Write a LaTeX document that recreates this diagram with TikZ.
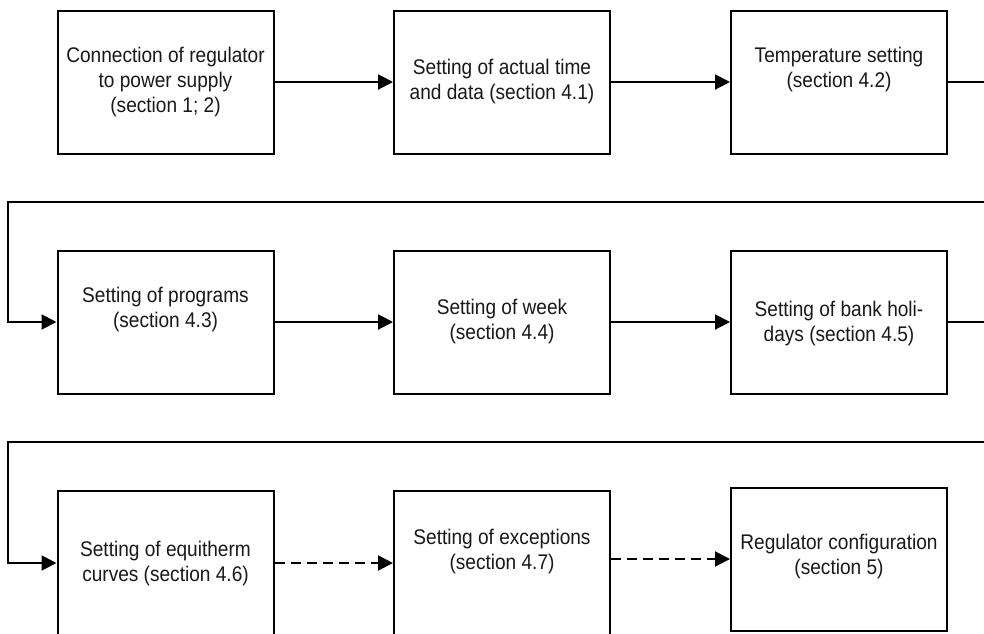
\documentclass[tikz,border=0pt]{standalone}
\usepackage{fontspec}
\setmainfont{Liberation Sans}[FakeStretch=0.9]
\usetikzlibrary{arrows.meta}
\begin{document}
\begin{tikzpicture}[x=1pt,y=-1pt,
  box/.style={draw, line width=2pt, minimum width=216pt, minimum height=143pt, inner sep=0pt, anchor=center},
  boxcut/.style={box, minimum height=145pt},
  txt/.style={align=center, font=\fontsize{21.2}{25}\selectfont, inner sep=0pt, text=black!90},
  conn/.style={line width=2pt, -{Triangle[length=15pt,width=15pt]}},
  dconn/.style={conn, dash pattern=on 10pt off 6pt},
  plain/.style={line width=2pt}]
\useasboundingbox (0,0) rectangle (984,633);
\fill[white] (0,0) rectangle (984,633);
\clip (0,0) rectangle (984,633);

% row 1
\node[box] (b1) at (165.5,82) {};
\node[box] (b2) at (502,82) {};
\node[box] (b3) at (839,82) {};
% row 2
\node[box] (b4) at (165.5,322) {};
\node[box] (b5) at (502,322) {};
\node[box] (b6) at (839,322) {};
% row 3
\node[boxcut] (b7) at (165.5,563.5) {};
\node[boxcut] (b8) at (502,563.5) {};
\node[box] (b9) at (839,559) {};

% texts
\node[txt] (t1) at (b1.center) {Connection of regulator\\to power supply\\(section 1; 2)};
\node[txt] (t2) at (b2.center) {Setting of actual time\\and data (section 4.1)};
\node[txt] (t3) at ([yshift=12.5pt]b3.center) {Temperature setting\\(section 4.2)};
\node[txt] (t4) at ([yshift=12pt]b4.center) {Setting of programs\\(section 4.3)};
\node[txt] (t5) at (b5.center) {Setting of week\\(section 4.4)};
\node[txt] (t6) at ([yshift=-1.5pt]b6.center) {Setting of bank holi-\\days (section 4.5)};
\node[txt] (t7) at (b7.center) {Setting of equitherm\\curves (section 4.6)};
\node[txt] (t8) at ([yshift=12.5pt]b8.center) {Setting of exceptions\\(section 4.7)};
\node[txt] (t9) at ([yshift=3pt]b9.center) {Regulator configuration\\(section 5)};

% helper coordinates for the wrap-around connectors
\coordinate (e1) at (1010,82);
\coordinate (w1) at (8,202);
\coordinate (e2) at (1010,322);
\coordinate (w2) at (8,442);
\coordinate (a7) at (280,563);
\coordinate (a8) at (620,559);

% connectors
\draw[conn] (b1.east) -- (b2.west);
\draw[conn] (b2.east) -- (b3.west);
\draw[conn] (b3.east) -- (e1) |- (w1) |- (b4.west);
\draw[conn] (b4.east) -- (b5.west);
\draw[conn] (b5.east) -- (b6.west);
\draw[conn] (b6.east) -- (e2) |- (w2) |- (b7.west |- a7);
\draw[dconn] (b7.east |- a7) -- (b8.west |- a7);
\draw[dconn] (b8.east |- a8) -- (b9.west |- a8);
\end{tikzpicture}
\end{document}
